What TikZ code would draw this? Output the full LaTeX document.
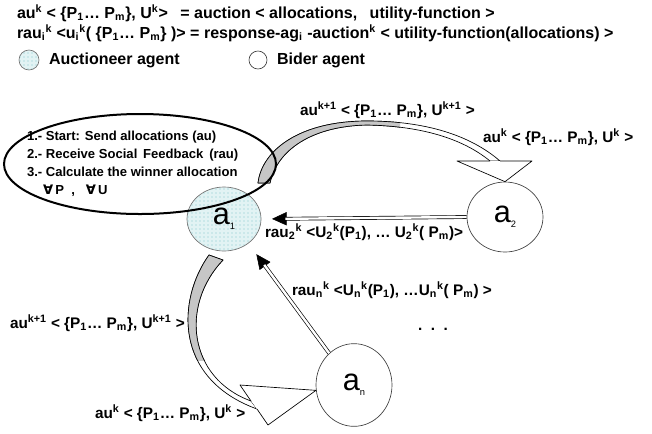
\documentclass[tikz,border=0pt]{standalone}
\usepackage{fontspec}
\setmainfont{Liberation Sans}
\newfontfamily\symfont{DejaVu Sans}
\usetikzlibrary{shapes.geometric,patterns,arrows.meta}
\definecolor{dotblue}{HTML}{7FC4CC}
\definecolor{paleblue}{HTML}{E2F3F4}
\definecolor{ribgrey}{HTML}{C6C6C6}
\newcommand{\fH}{\fontsize{12}{14}\selectfont\bfseries}
\newcommand{\fL}{\fontsize{11.5}{13}\selectfont\bfseries}
\newcommand{\fE}{\fontsize{9.8}{13.6}\selectfont\bfseries}
\newcommand{\fA}{\fontsize{23}{24}\selectfont\mdseries}
\newcommand{\fI}{\fontsize{7}{8}\selectfont\mdseries}
\newcommand{\tsup}[1]{\textsuperscript{#1}}
\newcommand{\tsub}[1]{\textsubscript{#1}}
\newcommand{\allP}{\{P\tsub{1}… P\tsub{m}\}}

\begin{document}
\begin{tikzpicture}[x=0.75pt,y=-0.75pt,
    txt/.style={inner sep=0pt,outer sep=0pt},
    lbl/.style={txt,anchor=base west,font=\fL},
    auct/.style={ellipse,draw=black!55,line width=0.5pt,preaction={fill=paleblue},
      pattern=dots,pattern color=dotblue,inner sep=0pt},
    bidder/.style={ellipse,draw=black!75,line width=0.5pt,fill=white,inner sep=0pt},
    ribbon/.style={draw=black,line width=0.5pt,line join=round},
    msg/.style={draw=black,line width=0.5pt,double=white,double distance=1.8pt},
    tip/.style={draw=black,line width=0.4pt,-{Triangle[length=11pt,width=10pt]}}]
  \path[use as bounding box] (0,0) rectangle (652,433);

  % Header: message definitions and legend
  \node[txt,anchor=base west,font=\fH] (defau) at (17,18)
    {au\tsup{k} < \allP, U\tsup{k}>\hspace{6pt} = auction < allocations,\hspace{6pt} utility-function >};
  \node[txt,anchor=base west,font=\fH] (defrau) at (17,38)
    {rau\tsub{i}\tsup{k} <u\tsub{i}\tsup{k}( \allP\ )> = response-ag\tsub{i} -auction\tsup{k} < utility-function(allocations) >};
  \node[auct,minimum size=15pt] (legauct) at (29,60) {};
  \node[txt,anchor=west,font=\fH] (legauctt) at (49,60) {Auctioneer agent};
  \node[bidder,minimum size=13.5pt] (legbid) at (258,60) {};
  \node[txt,anchor=west,font=\fH] (legbidt) at (277,60) {Bider agent};

  % Agents
  \node[auct,minimum width=55.5pt,minimum height=48pt] (a1) at (224,219)
    {{\fA a}\raisebox{-4pt}{\fI 1}};
  \node[bidder,minimum width=57pt,minimum height=52.5pt] (a2) at (505,217)
    {{\fA a}\raisebox{-4pt}{\fI 2}};
  \node[bidder,minimum width=57pt,minimum height=62pt] (an) at (354,385)
    {{\fA a}\raisebox{-4pt}{\fI n}};

  % Curved ribbon a1 -> a2 (grey back side, then white front, open head)
  \filldraw[ribbon,fill=white] (258,183) .. controls (262,150) and (300,121) .. (367,121)
    .. controls (425,121) and (470,135) .. (500,161) -- (490,161)
    .. controls (462,138) and (420,126) .. (367,125)
    .. controls (312,126) and (277,150) .. (270,183) -- cycle;
  \begin{scope}
    \clip (250,100) rectangle (400,190);
    \filldraw[ribbon,fill=ribgrey] (258,183) .. controls (262,150) and (300,121) .. (367,121)
      .. controls (425,121) and (470,135) .. (500,161) -- (490,161)
      .. controls (462,138) and (420,126) .. (367,125)
      .. controls (312,126) and (277,150) .. (270,183) -- cycle;
  \end{scope}
  \fill[white] (457,161) -- (532,161) -- (a2.north) -- cycle;
  \draw[ribbon] (490,161) -- (457,161) -- (a2.north) -- (532,161) -- (500,161);

  % Curved ribbon a1 -> an
  \filldraw[ribbon,fill=white] (209,255) .. controls (178,298) and (172,378) .. (257,409)
    -- (251,401) .. controls (188,378) and (180,305) .. (223,260) -- cycle;
  \begin{scope}
    \clip (150,240) rectangle (240,360);
    \filldraw[ribbon,fill=ribgrey] (209,255) .. controls (178,298) and (172,378) .. (257,409)
      -- (251,401) .. controls (188,378) and (180,305) .. (223,260) -- cycle;
  \end{scope}
  \fill[white] (240,385) -- (an.188) -- (268,425) -- cycle;
  \draw[ribbon] (251,401) -- (240,385) -- (an.188) -- (268,425) -- (257,409);

  % Social feedback back to the auctioneer
  \draw[tip,shorten >=8pt] (a2.west) -- (a1.east);
  \draw[msg,shorten >=18pt] (a2.west) -- (a1.east);
  \draw[tip,shorten >=10pt] (an.128) -- (a1.-45);
  \draw[msg,shorten >=20pt] (an.128) -- (a1.-45);

  % Auctioneer plan
  \draw[line width=1.5pt] (140,164) ellipse [x radius=136, y radius=50];
  \node[txt,anchor=north west,align=left,font=\fE] (steps) at (27,131)
    {1.- Start: Send allocations (au)\\
     2.- Receive Social\ \,Feedback\ \,(rau)\\
     3.- Calculate the winner allocation\\
     \hspace*{12pt}{\symfont ∀}\,P\ \ ,\ \ \ {\symfont ∀}\,U};

  % Message labels
  \node[lbl] (lauk1) at (300,115) {au\tsup{k+1} < \allP, U\tsup{k+1} >};
  \node[lbl] (lauk) at (483,142) {au\tsup{k} < \allP, U\tsup{k} >};
  \node[lbl] (lrau2) at (265,237)
    {rau\tsub{2}\tsup{k} <U\tsub{2}\tsup{k}(P\tsub{1}), … U\tsub{2}\tsup{k}( P\tsub{m})>};
  \node[lbl] (lraun) at (292,295)
    {rau\tsub{n}\tsup{k} <U\tsub{n}\tsup{k}(P\tsub{1}), …U\tsub{n}\tsup{k}( P\tsub{m}) >};
  \node[lbl] (ldots) at (418,330) {.\ \ .\ \ .};
  \node[lbl] (lauk1b) at (10,328) {au\tsup{k+1} < \allP, U\tsup{k+1} >};
  \node[lbl] (laukb) at (95,418) {au\tsup{k} < \allP, U\tsup{k} >};
\end{tikzpicture}
\end{document}
